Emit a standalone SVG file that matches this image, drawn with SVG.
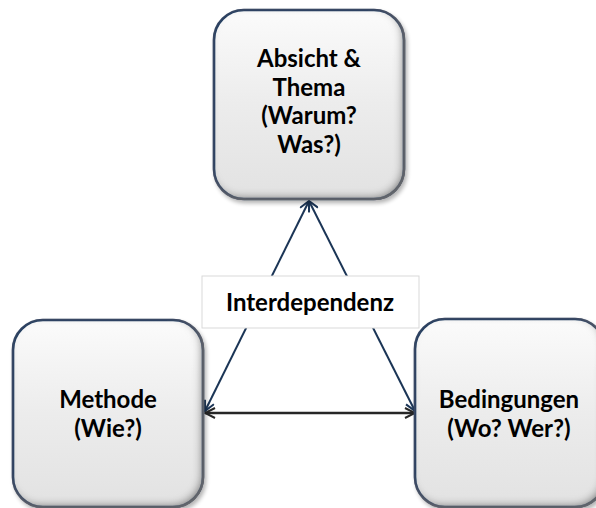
<svg xmlns="http://www.w3.org/2000/svg" width="596" height="508" viewBox="0 0 596 508">
<style>
.box{fill:url(#g);stroke:#1c3a60;stroke-width:2.6;filter:url(#bev)}
.t{font-family:Lato,"Open Sans","Liberation Sans",sans-serif;font-weight:bold;font-size:24px;fill:#000;text-anchor:middle}
.d{stroke:#1b3556;stroke-width:2;fill:none}
.h{stroke:#262626;stroke-width:2.5;fill:none}
</style>
<defs>
<linearGradient id="g" x1="0" y1="0" x2="0" y2="1">
<stop offset="0" stop-color="#fbfbfb"/>
<stop offset="0.5" stop-color="#ececec"/>
<stop offset="1" stop-color="#e2e2e2"/>
</linearGradient>
<filter id="bev" x="-10%" y="-10%" width="125%" height="125%">
<feFlood flood-color="#6e6e6e" result="c"/>
<feComposite in="c" in2="SourceAlpha" operator="out" result="o"/>
<feGaussianBlur in="o" stdDeviation="4" result="ob"/>
<feOffset in="ob" dx="-3" dy="-3" result="oo"/>
<feComposite in="oo" in2="SourceAlpha" operator="in" result="inner"/>
<feGaussianBlur in="SourceAlpha" stdDeviation="2" result="sb"/>
<feOffset in="sb" dx="1.5" dy="2.5" result="so"/>
<feComponentTransfer in="so" result="drop"><feFuncA type="linear" slope="0.3"/></feComponentTransfer>
<feMerge><feMergeNode in="drop"/><feMergeNode in="SourceGraphic"/><feMergeNode in="inner"/></feMerge>
</filter>
<marker id="ab" viewBox="0 0 12 12" refX="11" refY="6" markerWidth="12" markerHeight="12" markerUnits="userSpaceOnUse" orient="auto-start-reverse">
<path d="M1,1 L11,6 L1,11" fill="none" stroke="#1b3556" stroke-width="2"/>
</marker>
<marker id="ak" viewBox="0 0 12 12" refX="11" refY="6" markerWidth="12" markerHeight="12" markerUnits="userSpaceOnUse" orient="auto-start-reverse">
<path d="M1,1 L11,6 L1,11" fill="none" stroke="#262626" stroke-width="2"/>
</marker>
</defs>
<g id="connectors">
<line class="d" x1="309" y1="201" x2="205" y2="411" marker-start="url(#ab)" marker-end="url(#ab)"/>
<line class="d" x1="309" y1="201" x2="415" y2="411" marker-start="url(#ab)" marker-end="url(#ab)"/>
<line class="h" x1="205" y1="413" x2="415" y2="413" marker-start="url(#ak)" marker-end="url(#ak)"/>
</g>
<g id="label-interdependenz">
<rect x="202" y="276" width="217" height="52" fill="#fff" stroke="#d9d9d9" stroke-width="1"/>
<text class="t" x="310" y="311">Interdependenz</text>
</g>
<g id="node-absicht">
<rect class="box" x="214" y="10" width="190" height="189" rx="30"/>
<text class="t" x="309" y="67">Absicht &amp;</text>
<text class="t" x="309" y="95.5">Thema</text>
<text class="t" x="309" y="124">(Warum?</text>
<text class="t" x="309" y="152.5">Was?)</text>
</g>
<g id="node-methode">
<rect class="box" x="13" y="320" width="190" height="187" rx="30"/>
<text class="t" x="108" y="408">Methode</text>
<text class="t" x="108" y="437">(Wie?)</text>
</g>
<g id="node-bedingungen">
<rect class="box" x="415" y="319" width="190" height="188" rx="30"/>
<text class="t" x="509" y="408">Bedingungen</text>
<text class="t" x="509" y="437">(Wo? Wer?)</text>
</g>
</svg>
